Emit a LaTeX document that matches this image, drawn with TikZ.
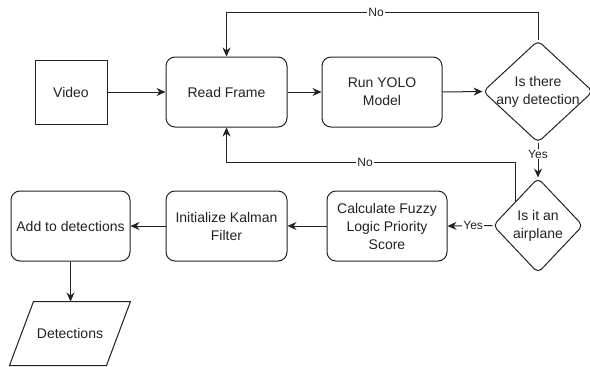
\documentclass[tikz,border=0pt]{standalone}
\usepackage{fontspec}
\setmainfont{Liberation Sans}
\usetikzlibrary{shapes.geometric,arrows.meta}
\definecolor{ln}{HTML}{222222}
\tikzset{
  base/.style={draw=ln, line width=1pt, inner sep=0pt, align=center, text=ln,
    font=\fontsize{14}{18}\selectfont},
  procbox/.style={base, rectangle, rounded corners=9pt},
  plainbox/.style={base, rectangle},
  dia/.style={base, diamond, rounded corners=5pt},
  arr/.style={draw=ln, line width=1pt, -{Stealth[length=9pt,width=8pt,inset=3pt]}},
  lbl/.style={fill=white, inner sep=1pt, text=ln, font=\fontsize{12}{14}\selectfont},
  dlbl/.style={text=ln, align=center, font=\fontsize{14}{18}\selectfont}
}
\begin{document}
\begin{tikzpicture}[x=1pt,y=-1pt]
\useasboundingbox (0,0) rectangle (590,367);
\node[plainbox, minimum width=72pt, minimum height=64pt] (video) at (71,92) {Video};
\node[procbox, minimum width=121pt, minimum height=70pt] (rf) at (226.5,92) {Read Frame};
\node[procbox, minimum width=120pt, minimum height=70pt] (yolo) at (382,92) {Run YOLO\\Model};
\node[dia, minimum width=110pt, minimum height=102pt,
  label={[dlbl]center:Is there\\any detection}] (d1) at (538,91.5) {};
\node[dia, minimum width=90pt, minimum height=95pt,
  label={[dlbl]center:Is it an\\airplane}] (d2) at (538,225.5) {};
\node[procbox, minimum width=120pt, minimum height=70pt] (calc) at (387,226) {Calculate Fuzzy\\Logic Priority\\Score};
\node[procbox, minimum width=121pt, minimum height=70pt] (kal) at (226.5,226) {Initialize Kalman\\Filter};
\node[procbox, minimum width=119pt, minimum height=70pt] (add) at (70.5,226) {Add to detections};
\node[base, draw=none, rectangle, minimum width=120pt, minimum height=63pt] (det) at (70,333.5) {Detections};
\draw[draw=ln, line width=1pt] ([xshift=24pt]det.north west) -- (det.north east)
  -- ([xshift=-24pt]det.south east) -- (det.south west) -- cycle;
\coordinate (t1) at (538,12);
\coordinate (t2) at (515,162);
\draw[arr] (video.east) -- (rf.west);
\draw[arr] (rf.east) -- (yolo.west);
\draw[arr] (yolo.east) -- (d1.west);
\draw[arr] (d1.north) -- (d1.north |- t1) -| node[lbl, pos=0.26] {No} (rf.north);
\draw[arr] (d1.south) -- node[lbl, pos=0.32] {Yes} (d2.north);
\draw[arr] (d2.north west) -- (d2.north west |- t2) -| node[lbl, pos=0.26] {No} (rf.south);
\draw[arr] (d2.west) -- node[lbl, pos=0.43] {Yes} (calc.east);
\draw[arr] (calc.west) -- (kal.east);
\draw[arr] (kal.west) -- (add.east);
\draw[arr] (add.south) -- (add.south |- det.north);
\end{tikzpicture}
\end{document}
